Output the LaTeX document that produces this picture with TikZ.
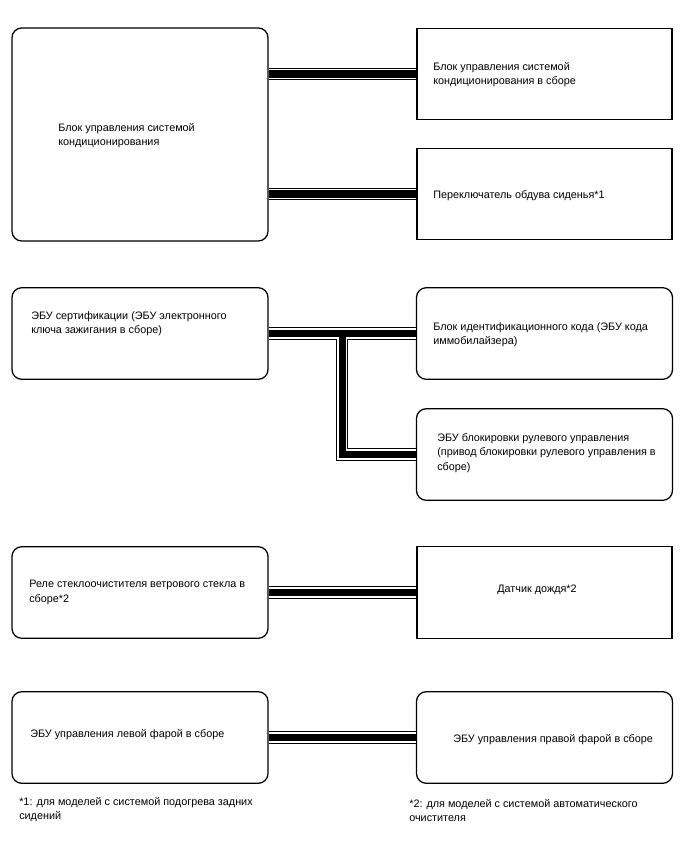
\documentclass[tikz,border=0pt]{standalone}
\usepackage{fontspec}
\setmainfont{Liberation Sans}
\usepackage{tikz}
\usetikzlibrary{calc,positioning}
\tikzset{
  bloque/.style={draw, line width=0.9pt, rounded corners=7pt, minimum width=6.4cm,
    minimum height=2.29cm, inner sep=0pt},
  bloqueRecto/.style={draw, line width=0.9pt, minimum width=6.375cm,
    minimum height=2.29cm, inner sep=0pt},
  texto/.style={anchor=north west, inner sep=0pt, align=left,
    font=\fontsize{7.7}{10.4}\selectfont},
}

\begin{document}
\begin{tikzpicture}[x=0.025cm, y=-0.025cm]
  \useasboundingbox (0,0) rectangle (688,852);
  % Climatizacion
  \node[bloque, minimum height=5.325cm] (b1) at (140,134.5) {};
  \node[texto] (t1) at (58,123) {Блок управления системой\\кондиционирования};
  \node[bloqueRecto] (b2) at (544.5,74) {};
  \node[texto] (t2) at (433,62) {Блок управления системой\\кондиционирования в сборе};
  \node[bloqueRecto] (b3) at (544.5,194) {};
  \node[texto] (t3) at (433,190) {Переключатель обдува сиденья*1};
  % Inmovilizador
  \node[bloque] (b4) at (140,333.5) {};
  \node[texto] (t4) at (31,311) {ЭБУ сертификации (ЭБУ электронного\\ключа зажигания в сборе)};
  \node[bloque] (b5) at (544.5,333.5) {};
  \node[texto] (t5) at (433,322) {Блок идентификационного кода (ЭБУ кода\\иммобилайзера)};
  \node[bloque] (b6) at (544.5,454.5) {};
  \node[texto] (t6) at (437,433)
    {ЭБУ блокировки рулевого управления\\(привод блокировки рулевого управления в\\сборе)};
  % Limpiaparabrisas
  \node[bloque] (b7) at (140,592.5) {};
  \node[texto] (t7) at (29,580) {Реле стеклоочистителя ветрового стекла в\\сборе*2};
  \node[bloqueRecto] (b8) at (544.5,592.5) {};
  \node[texto] (t8) at (497,585) {Датчик дождя*2};
  % Faros
  \node[bloque] (b9) at (140,737.5) {};
  \node[texto] (t9) at (30,729) {ЭБУ управления левой фарой в сборе};
  \node[bloque] (b10) at (544.5,737.5) {};
  \node[texto] (t10) at (453,734) {ЭБУ управления правой фарой в сборе};
  % Notas
  \node[texto] (n1) at (19,797) {*1: для моделей с системой подогрева задних\\сидений};
  \node[texto] (n2) at (409,799) {*2: для моделей с системой автоматического\\очистителя};
  % Buses (negro, blanco, negro)
  \coordinate (jn) at ($(b4.east)!0.5!(b5.west)$);
  \foreach \ancho/\col in {8.7pt/black, 7.3pt/white, 5.2pt/black}{
    \draw[line width=\ancho, \col] (b2.west) -- (b2.west -| b1.east);
    \draw[line width=\ancho, \col] (b3.west) -- (b3.west -| b1.east);
    \draw[line width=\ancho, \col] (b4.east) -- (b5.west);
    \draw[line width=\ancho, \col] (jn) |- (b6.west);
    \draw[line width=\ancho, \col] (b7.east) -- (b8.west);
    \draw[line width=\ancho, \col] (b9.east) -- (b10.west);
  }
\end{tikzpicture}
\end{document}
